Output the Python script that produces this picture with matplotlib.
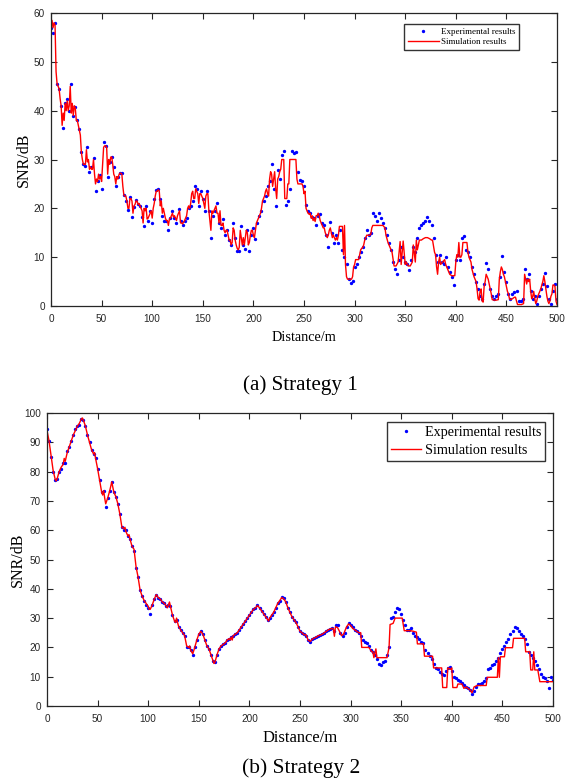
import numpy as np
import matplotlib
matplotlib.use("Agg")
import matplotlib.pyplot as plt

# ---- Strategy 1 data ----
dist_sim_a = [0, 1, 2, 3, 4, 5, 6, 7, 8, 9, 10, 11, 12, 13, 14, 15, 16, 17, 18, 19,
              20, 21, 22, 23, 24, 25, 26, 27, 28, 29, 30, 31, 32, 33, 34, 35, 36, 37, 38, 39,
              40, 41, 42, 43, 44, 45, 46, 47, 48, 49, 50, 51, 52, 53, 54, 55, 56, 57, 58, 59,
              60, 61, 62, 63, 64, 65, 66, 67, 68, 69, 70, 71, 72, 73, 74, 75, 76, 77, 78, 79,
              80, 81, 82, 83, 84, 85, 86, 87, 88, 89, 90, 91, 92, 93, 94, 95, 96, 97, 98, 99,
              100, 101, 102, 103, 104, 105, 106, 107, 108, 109, 110, 111, 112, 113, 114, 115, 116, 117, 118, 119,
              120, 121, 122, 123, 124, 125, 126, 127, 128, 129, 130, 131, 132, 133, 134, 135, 136, 137, 138, 139,
              140, 141, 142, 143, 144, 145, 146, 147, 148, 149, 150, 151, 152, 153, 154, 155, 156, 157, 158, 159,
              160, 161, 162, 163, 164, 165, 166, 167, 168, 169, 170, 171, 172, 173, 174, 175, 176, 177, 178, 179,
              180, 181, 182, 183, 184, 185, 186, 187, 188, 189, 190, 191, 192, 193, 194, 195, 196, 197, 198, 199,
              200, 201, 202, 203, 204, 205, 206, 207, 208, 209, 210, 211, 212, 213, 214, 215, 216, 217, 218, 219,
              220, 221, 222, 223, 224, 225, 226, 227, 228, 229, 230, 231, 232, 233, 234, 235, 236, 237, 238, 239,
              240, 241, 242, 243, 244, 245, 246, 247, 248, 249, 250, 251, 252, 253, 254, 255, 256, 257, 258, 259,
              260, 261, 262, 263, 264, 265, 266, 267, 268, 269, 270, 271, 272, 273, 274, 275, 276, 277, 278, 279,
              280, 281, 282, 283, 284, 285, 286, 287, 288, 289, 290, 291, 292, 293, 294, 295, 296, 297, 298, 299,
              300, 301, 302, 303, 304, 305, 306, 307, 308, 309, 310, 311, 312, 313, 314, 315, 316, 317, 318,
              320, 322, 324, 326, 328, 330, 331, 333, 335, 337, 339, 341, 343, 345, 346, 348, 350, 351, 353, 355,
              357, 358, 360, 361, 362, 364, 366, 368, 370, 372, 374, 376, 377, 379, 380, 381, 382, 383, 384, 385,
              387, 389, 390, 392, 394, 396, 398, 399, 400, 401, 402, 403, 404, 405, 406, 407, 409, 411, 412, 413,
              415, 416, 418, 420, 421, 422, 423, 424, 425, 426, 427, 428, 429, 430, 431, 432, 433, 434, 435, 436,
              438, 440, 442, 443, 444, 445, 446, 447, 448, 449, 450, 451, 452, 453, 454, 456, 458, 459, 460, 461,
              463, 465, 467, 468, 469, 470, 471, 472, 473, 474, 475, 476, 477, 478, 479, 480, 481, 482, 483, 484,
              485, 486, 487, 488, 489, 490, 491, 492, 493, 494, 495, 496, 497, 498, 499, 500]
snr_sim_a = [57, 58.5, 57, 58, 57.5, 48, 45.5, 45, 44.5, 42.5, 41, 37, 39.5, 38, 41.5, 40, 42, 40, 41, 45,
             39.5, 41.5, 39, 41, 40.5, 38, 38, 37, 36, 35, 31.5, 30, 29, 29, 29, 32, 29.5, 30, 28, 28.5,
             28, 28, 30, 27, 25, 26, 25.5, 27, 26, 26.5, 25.5, 29, 32.5, 32.8, 32.8, 32.5, 27, 30, 29, 30.5,
             30.5, 29, 27, 26.5, 25, 26.5, 26, 26.8, 27.2, 27.2, 27, 24.5, 22.7, 22.5, 22.5, 21.5, 20, 20, 22, 22,
             21.5, 19, 20.5, 20.8, 21.5, 21.5, 20.8, 21, 20.5, 20, 19.5, 17, 20, 19.5, 20, 17.8, 18, 18.5, 19, 19.5,
             18, 20, 21, 22.5, 23.5, 23.5, 23.8, 23.5, 20.5, 21.5, 19, 20, 19, 18, 17.5, 17.5, 16.5, 17.8, 18, 18.5,
             19, 18.2, 18.5, 18, 17.5, 18.5, 19, 19.5, 17, 17, 16.8, 17.2, 17.5, 18, 18.5, 20, 20.5, 20, 21, 23,
             23.5, 22, 22, 24, 23.5, 23, 21, 23, 23, 22.5, 22, 21, 20, 22.5, 23, 23, 19.5, 17.5, 15.5, 19.5,
             19, 19.5, 20, 20.5, 19, 19, 17, 19.5, 16.5, 16.5, 17, 15.5, 15, 15.5, 15.5, 14.5, 13.5, 13.5, 12.5, 13,
             16, 15.5, 13.5, 12.5, 11.8, 11.5, 12, 15.5, 14, 12.5, 14, 12.5, 14, 15.5, 15, 12.5, 13, 14.5, 15.5, 15.5,
             14.5, 14, 15.5, 17, 17.5, 18, 18.5, 19, 20, 21.5, 22, 22.5, 23.5, 24, 23, 22.5, 26, 27.5, 27, 24.5,
             26, 27.5, 24, 22, 26, 26.5, 27.5, 28, 30, 30, 30, 22, 22, 22, 25, 25, 30, 30, 30, 30,
             30, 30, 30, 26, 25, 25, 25, 25, 25, 24.5, 23, 23.5, 20, 19.5, 19, 18.8, 19, 18, 18.5, 17.5,
             18, 17.3, 18.5, 18.5, 19, 18.5, 17.5, 17, 16.5, 16, 16, 15, 14.5, 14, 14.5, 15.5, 16, 15, 14, 14.5,
             14, 13.5, 14, 13.5, 14.5, 16.3, 16.3, 16.3, 16.3, 10.5, 16.5, 8.5, 6, 5.5, 5.5, 5.5, 5.5, 5.5, 6, 8,
             8.5, 9.5, 9.5, 9.5, 9.5, 10.5, 11.5, 11.8, 12, 12.5, 13.5, 14, 14.5, 14.5, 14.5, 14.5, 14.7, 16, 16.5,
             16.5, 16.5, 16.5, 16.5, 16.5, 16, 14.5, 13, 12, 11, 8.2, 8.2, 9, 13.2, 8.5, 13.3, 8.5, 9, 8.2, 8.2,
             9, 12.5, 9, 13.5, 11.5, 13.5, 13.5, 13.8, 14, 14, 13.8, 13.5, 13.5, 11, 10.5, 8, 6.5, 9, 10, 8.5,
             9, 9.5, 8.5, 7.5, 6.5, 6.2, 6.2, 6.2, 9, 10.5, 10, 13, 10, 10, 10.5, 13, 13, 13, 11, 10,
             9, 7.5, 6, 5, 3.5, 1.5, 1.2, 3, 3.5, 1, 0.8, 4, 5, 6.5, 6, 5.5, 4.5, 3.5, 2.5, 1.3,
             1.2, 1.2, 1.3, 5.5, 7, 8, 7.5, 6.5, 6, 5, 4, 3, 2.5, 1.5, 1.3, 1.5, 1.8, 1.8, 1, 0.3,
             0.3, 0.3, 0.5, 6.5, 5.5, 4.5, 5.5, 5, 5.5, 3, 1.5, 2, 3, 1.5, 0.5, 1, 2, 2.5, 3, 3.5,
             4.3, 5, 6.2, 5, 3.5, 2, 1, 0.5, 1, 2, 2.5, 4.3, 4.3, 4, 1, 0.3]

dist_exp_a = list(range(0, 501, 2))
snr_exp_a = [57, 56, 58, 45.5, 44.5, 41, 36.5, 41.5, 42.3, 40, 45.5, 39, 40.8, 38, 36.2, 31.5, 29, 28.7, 32.5, 27.5,
             28.5, 30.3, 23.5, 25.5, 26.8, 24, 33.5, 32.7, 26.5, 29.5, 30.5, 28.5, 24.5, 26.5, 27.3, 27.2, 22.7, 21.5, 19.7, 22.3,
             18.2, 20.3, 21.7, 20.8, 20.5, 18.3, 16.3, 20.5, 17.5, 19.5, 17, 22, 23.7, 24, 22, 18.5, 17.5, 17.5, 15.5, 18,
             19.5, 18, 17, 19.8, 17.5, 16.5, 17.5, 18, 20, 20.5, 21.5, 24.5, 24, 20.5, 23.5, 22, 19.5, 23.5, 19.5, 14,
             18.5, 19.5, 21, 17, 16, 17.8, 14.5, 15.5, 13.5, 12.5, 17, 14, 11.3, 11.2, 16.3, 12.5, 11.7, 15.5, 11.3, 14.5,
             16, 13.7, 17, 18.5, 19.5, 21.5, 22.5, 24.5, 25.5, 29, 24, 20.5, 27.8, 26, 31, 31.7, 20.7, 21.5, 24, 31.8,
             31.3, 31.5, 27.5, 25.8, 25.5, 24.5, 20.6, 19.5, 19, 18.3, 18, 16.6, 18.5, 18.8, 17, 16.5, 14.5, 12, 17.3, 15,
             12.8, 14.5, 13, 15.5, 11.5, 10, 8.5, 5.5, 4.8, 5.2, 8, 8.5, 10, 11, 12, 14, 15.5, 14.5, 15, 19,
             18.5, 17.5, 19, 18, 17, 16, 14.5, 13, 11.5, 9, 7.5, 6.6, 9.5, 12, 10, 9, 8.5, 7.4, 9.5, 12,
             11, 14, 16, 16.5, 17, 17.5, 18.2, 17.5, 16.5, 14, 10.5, 9, 10.5, 9, 8.5, 10, 8, 7, 6, 4.3,
             9.5, 10.5, 9.5, 14, 14.3, 11.5, 11, 10, 8, 6.5, 5, 3.5, 2, 1.5, 4.5, 8.8, 7.5, 3.5, 2, 1.5,
             2, 2.5, 6, 10.3, 7, 5, 2.5, 1.5, 2.5, 2.8, 3, 1, 1, 1.5, 7.5, 5.5, 6.5, 3, 1.5, 2,
             0.5, 2, 3.5, 4.5, 6.8, 4, 1.5, 0.5, 3, 4.5, 1.5]

# ---- Strategy 2 data ----
dist_sim_b = [0, 2, 4, 6, 8, 9, 10, 12, 14, 16, 17, 18, 20, 22, 24, 26, 28, 30, 32, 34,
              35, 36, 38, 40, 42, 44, 46, 47, 48, 50, 52, 54, 55, 56, 57, 58, 60, 62, 64, 66,
              68, 70, 72, 74, 76, 77, 78, 80, 81, 82, 84, 86, 88, 90, 92, 94, 96, 98, 100, 101,
              102, 104, 106, 108, 110, 112, 114, 116, 118, 119, 121, 122, 124, 126, 127, 128, 129, 130, 132, 134,
              136, 138, 140, 141, 142, 144, 146, 148, 150, 152, 154, 156, 158, 160, 162, 164, 165, 166, 168, 170,
              172, 174, 176, 178, 180, 181, 182, 183, 184, 186, 188, 190, 192, 194, 196, 198, 200, 202, 204, 206,
              208, 210, 212, 214, 216, 218, 219, 220, 222, 224, 226, 228, 230, 232, 234, 236, 238, 240, 242, 244,
              246, 248, 250, 252, 254, 256, 258, 260, 262, 264, 266, 268, 270, 272, 274, 276, 278, 280, 282, 283,
              284, 285, 287, 289, 291, 293, 296, 298, 300, 302, 304, 306, 308, 310, 311, 318, 319, 321, 322, 323,
              324, 325, 326, 336, 338, 339, 342, 344, 351, 353, 359, 362, 365, 366, 372, 373, 381, 382, 390, 391,
              395, 396, 399, 400, 401, 405, 406, 410, 412, 414, 416, 418, 420, 422, 425, 434, 435, 445, 446, 447,
              448, 452, 453, 460, 461, 472, 473, 477, 478, 480, 481, 482, 485, 487, 500]
snr_sim_b = [94, 90.5, 85.5, 80.5, 77.5, 76.8, 77.5, 80, 81.5, 82.5, 84.5, 83.5, 86.5, 88.5, 90.5, 92.5, 94, 95.5, 96.5, 98,
             98.3, 97.5, 95.5, 92.5, 90, 87.5, 86, 86.5, 84.5, 81, 77, 73, 72, 73.5, 71, 69, 71, 73.5, 76.5, 73,
             71.5, 69, 65.5, 61, 60.5, 61, 59.5, 58, 58.5, 57, 54.5, 53.5, 47.5, 44, 39.5, 37.5, 36, 35, 34, 33,
             33, 34.5, 36.5, 38, 37, 36.5, 35.5, 35, 34, 33.5, 35.5, 34, 31, 29, 28.5, 30, 28.5, 27.2, 26, 25,
             24, 20.5, 20, 20.5, 19, 17.8, 20, 22.5, 24.5, 25.5, 24.5, 22.5, 20.5, 19.5, 17.5, 15.5, 14.5, 15, 17.5, 19.5,
             20.5, 21, 21.5, 22.5, 23, 22.5, 23.5, 22.5, 24, 24.5, 25, 26, 27, 28, 29, 30, 31, 32, 33, 33.5,
             34.3, 33.5, 32.5, 31.5, 30.5, 29.5, 29, 30, 31, 32, 33.5, 35, 36, 37, 36.5, 35.5, 33.5, 32, 30.5, 29.5,
             28.5, 27, 25.5, 25, 24.3, 24.3, 22.5, 22, 22.8, 23.2, 23.5, 24, 24.2, 24.5, 25, 25.5, 26, 26.3, 26.5, 26.3,
             23.8, 27, 26.8, 25.5, 24, 24.5, 27, 28, 27.5, 26.5, 26, 25.5, 25, 25, 20, 20, 19.5, 18.5, 18.5, 16.5,
             18, 19.5, 16.5, 16.5, 20, 27.8, 28.2, 30, 30, 25.7, 25.7, 25.5, 25.2, 21.2, 21.2, 17, 17, 13, 13, 6.3,
             6.3, 13, 12.5, 13, 6.3, 6.3, 7.5, 7.5, 6, 6.5, 6, 5.5, 4.5, 6.5, 7, 7, 9.8, 9.8, 16.5, 9.8,
             16.8, 16.8, 19.9, 19.9, 23.1, 23.1, 18.5, 18.5, 12.3, 12.3, 18.5, 12.3, 12.3, 8.3, 8.3]

dist_exp_b = list(range(0, 501, 2))
snr_exp_b = [94.5, 90.5, 85, 80, 77, 77.5, 80, 81, 83, 83, 87, 88.5, 90.5, 92.5, 94.5, 95.5, 96, 98, 97.5, 95.5,
             92.5, 90, 87.5, 86, 84.5, 81, 77, 73, 73.5, 68, 71, 73.5, 76.5, 73, 71.5, 69, 65.5, 61, 60, 60,
             58, 57, 54.5, 53, 47, 44, 39.5, 37.5, 36, 34.5, 33.5, 31.5, 34.5, 36.5, 38, 37, 36.5, 35.5, 35, 34,
             34.5, 34, 31, 29, 29.5, 27, 26, 25, 24, 20, 20, 19, 17.5, 20, 22.5, 24.5, 25.5, 24.5, 22.5, 20.5,
             19.5, 17.5, 15.5, 15, 17.5, 19.5, 20.5, 21, 21.5, 22.5, 23, 23.5, 24, 24.5, 25, 26, 27, 28, 29, 30,
             31, 32, 33, 33.5, 34.5, 33.5, 32.5, 31.5, 30.5, 29.5, 30, 31, 32, 33.5, 35, 36, 37.2, 37, 35.5, 33.5,
             32, 30.5, 29.5, 28.5, 27, 25.5, 25, 24.5, 24, 22.5, 22, 22.8, 23.2, 23.5, 24, 24.2, 24.5, 25, 25.5, 26,
             26.3, 26.5, 25.5, 27.5, 27.6, 25, 24, 25, 27, 28.2, 27.5, 27, 26, 25.5, 25, 24, 22.5, 22, 21.5, 20.5,
             19, 18.5, 17.5, 16, 14.5, 14, 15, 15.5, 17.5, 20, 30, 30.5, 32, 33.3, 33, 31.5, 29.5, 27.5, 26, 26,
             26.5, 25, 24, 23.5, 23, 22, 21.5, 19, 18, 17, 16, 14.5, 13, 12.5, 11.5, 11, 10.5, 12, 13, 13.3,
             12, 10, 9.5, 9, 8.5, 8, 7, 6.5, 6, 5.5, 4.2, 5, 6.5, 7.5, 7.5, 8, 8.5, 9.5, 12.5, 13,
             14, 14.5, 15.5, 16.5, 18, 19.5, 20.5, 22, 23, 24.5, 25.5, 26.8, 26.5, 25.5, 24.5, 24, 23, 21, 18.5, 17.5,
             16.5, 15.5, 14, 12.5, 11, 10, 9.5, 8.5, 6, 10, 9]

serif_font = "Liberation Serif"
sans_font = "Liberation Sans"


def style_axes(ax, ymax):
    ax.set_xlim(0, 500)
    ax.set_ylim(0, ymax)
    ax.set_xticks(np.arange(0, 501, 50))
    ax.set_yticks(np.arange(0, ymax + 1, 10))
    ax.tick_params(direction='in', top=True, right=True, length=4, width=0.8,
                   labelsize=7.2, colors='0.15')
    ax.tick_params(axis='x', pad=5.5)
    ax.tick_params(axis='y', pad=4.5)
    for lbl in ax.get_xticklabels() + ax.get_yticklabels():
        lbl.set_fontfamily(sans_font)
    for s in ax.spines.values():
        s.set_linewidth(0.9)
        s.set_color('0.15')


def plot_panel(ax, d_exp, v_exp, d_sim, v_sim, ymax, xlab_size, ylab_size, ylab_x, xlab_y, leg_opts):
    ax.plot(d_exp, v_exp, linestyle='none', marker='.', markersize=2.8, color='b',
            label='Experimental results')
    ax.plot(d_sim, v_sim, linestyle='-', color='r', linewidth=1.0, label='Simulation results')
    style_axes(ax, ymax)
    ax.set_xlabel('Distance/m', fontsize=xlab_size, fontfamily=serif_font)
    ax.set_ylabel('SNR/dB', fontsize=ylab_size, fontfamily=serif_font)
    ax.yaxis.set_label_coords(ylab_x, 0.5)
    ax.xaxis.set_label_coords(0.5, xlab_y)
    ax.xaxis.label.set_va('center')
    ax.yaxis.label.set_va('center')
    leg = ax.legend(loc='upper right', fancybox=False, framealpha=1, edgecolor='0.2',
                    borderaxespad=0, markerscale=1.0, prop={'family': serif_font, 'size': leg_opts['size']},
                    bbox_to_anchor=leg_opts['anchor'], borderpad=leg_opts['borderpad'],
                    handlelength=leg_opts['handlelength'], handletextpad=leg_opts['handletextpad'],
                    labelspacing=leg_opts['labelspacing'])
    leg.get_frame().set_linewidth(1.0)


fig = plt.figure(figsize=(5.65, 7.81), dpi=100)

# (a) Strategy 1
ax1 = fig.add_axes([51 / 565, 1 - 306 / 781, 506 / 565, 293 / 781])
plot_panel(ax1, dist_exp_a, snr_exp_a, dist_sim_a, snr_sim_a, 60,
           10.3, 11.5, -0.053, -0.106,
           {'size': 6.5, 'anchor': (0.925, 0.963), 'borderpad': 0.4, 'handlelength': 3.5,
            'handletextpad': 0.2, 'labelspacing': 0.25})
fig.text(300 / 565, 1 - 385 / 781, '(a) Strategy 1', ha='center', va='center',
         fontsize=15.2, fontfamily=serif_font)

# (b) Strategy 2
ax2 = fig.add_axes([47 / 565, 1 - 706 / 781, 506 / 565, 293 / 781])
plot_panel(ax2, dist_exp_b, snr_exp_b, dist_sim_b, snr_sim_b, 100,
           11.9, 11.5, -0.057, -0.109,
           {'size': 10.2, 'anchor': (0.984, 0.969), 'borderpad': 0.25, 'handlelength': 2.1,
            'handletextpad': 0.3, 'labelspacing': 0.4})
fig.text(301 / 565, 1 - 768 / 781, '(b) Strategy 2', ha='center', va='center',
         fontsize=15.4, fontfamily=serif_font)

fig.savefig('out.png', dpi=100)
